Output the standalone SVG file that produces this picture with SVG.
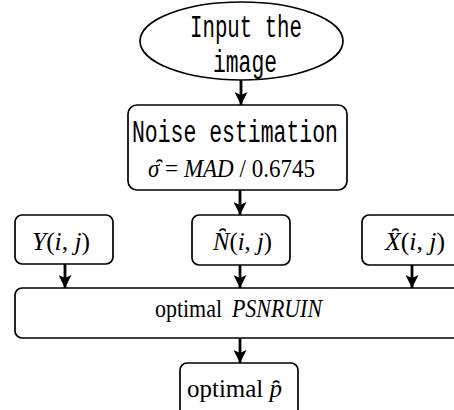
<svg xmlns="http://www.w3.org/2000/svg" width="454" height="410" viewBox="0 0 454 410">
<defs>
<style>
.box{fill:#fff;stroke:#000;stroke-width:1.7}
.mono{font-family:"Liberation Mono","DejaVu Sans Mono",monospace;font-size:31px;fill:#000}
.tm{font-family:"Liberation Serif","Times New Roman",serif;font-size:25px;fill:#000}
.it{font-style:italic}
.conn line{stroke:#000;stroke-width:2.8}
</style>
<marker id="ah" markerUnits="userSpaceOnUse" viewBox="0 0 13 13" markerWidth="13" markerHeight="13" refX="13" refY="6.5" orient="auto">
<path d="M0,0 L13,6.5 L0,13 L3,6.5 z" fill="#000"/>
</marker>
</defs>
<rect width="454" height="410" fill="#fff"/>
<g id="input">
<ellipse class="box" cx="241.5" cy="41" rx="101.5" ry="39"/>
<text class="mono" x="246" y="37" text-anchor="middle" textLength="112" lengthAdjust="spacingAndGlyphs">Input the</text>
<text class="mono" x="245" y="72" text-anchor="middle" textLength="64" lengthAdjust="spacingAndGlyphs">image</text>
</g>
<g id="noise">
<rect class="box" x="128" y="105" width="219" height="85" rx="9"/>
<text class="mono" x="235" y="142" text-anchor="middle" textLength="206" lengthAdjust="spacingAndGlyphs">Noise estimation</text>
<text class="tm" x="148" y="177" textLength="167" lengthAdjust="spacingAndGlyphs"><tspan class="it">σ&#x311;</tspan> = <tspan class="it">MAD</tspan> / 0.6745</text>
</g>
<g id="y">
<rect class="box" x="15" y="215" width="98" height="49" rx="7"/>
<text class="tm" x="32" y="250" textLength="58" lengthAdjust="spacingAndGlyphs"><tspan class="it">Y</tspan>(<tspan class="it">i</tspan>, <tspan class="it">j</tspan>)</text>
</g>
<g id="n">
<rect class="box" x="192" y="215" width="98" height="50" rx="7"/>
<text class="tm" x="213" y="250" textLength="59" lengthAdjust="spacingAndGlyphs"><tspan class="it">N&#x311;</tspan>(<tspan class="it">i</tspan>, <tspan class="it">j</tspan>)</text>
</g>
<g id="x">
<rect class="box" x="362" y="215" width="110" height="50" rx="7"/>
<text class="tm" x="385" y="250" textLength="60" lengthAdjust="spacingAndGlyphs"><tspan class="it">X&#x311;</tspan>(<tspan class="it">i</tspan>, <tspan class="it">j</tspan>)</text>
</g>
<g id="optimal">
<rect class="box" x="15" y="288" width="460" height="50" rx="7"/>
<text class="tm" x="155" y="317" textLength="67" lengthAdjust="spacingAndGlyphs">optimal</text>
<text class="tm it" x="232" y="317" textLength="90" lengthAdjust="spacingAndGlyphs">PSNRUIN</text>
</g>
<g id="result">
<rect class="box" x="180" y="363" width="118" height="60" rx="7"/>
<text class="tm" x="187" y="397" textLength="95" lengthAdjust="spacingAndGlyphs">optimal <tspan class="it">p&#x311;</tspan></text>
</g>
<g class="conn" id="connectors">
<line x1="241" y1="80" x2="241" y2="105" marker-end="url(#ah)"/>
<line x1="240" y1="190" x2="240" y2="215" marker-end="url(#ah)"/>
<line x1="65" y1="264" x2="65" y2="288" marker-end="url(#ah)"/>
<line x1="240" y1="265" x2="240" y2="288" marker-end="url(#ah)"/>
<line x1="412" y1="265" x2="412" y2="288" marker-end="url(#ah)"/>
<line x1="240" y1="338" x2="240" y2="363" marker-end="url(#ah)"/>
</g>
</svg>
